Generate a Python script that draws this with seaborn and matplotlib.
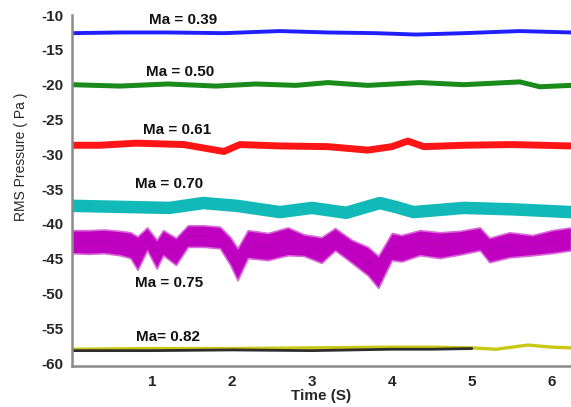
import matplotlib
matplotlib.use("Agg")
import matplotlib.pyplot as plt
import seaborn as sns
import pandas as pd

# ---- data ----
t_blue = [0.0, 0.6, 1.2, 1.9, 2.6, 3.2, 3.8, 4.3, 4.9, 5.6, 6.24]
v_blue = [-12.6, -12.5, -12.5, -12.6, -12.3, -12.5, -12.6, -12.8, -12.6, -12.3, -12.5]

t_green = [0.0, 0.6, 1.2, 1.8, 2.3, 2.8, 3.2, 3.7, 4.35, 4.9, 5.6, 5.85, 6.24]
v_green = [-20.0, -20.2, -19.9, -20.2, -19.9, -20.1, -19.7, -20.1, -19.7, -20.0, -19.6, -20.3, -20.1]

t_red = [0.0, 0.35, 0.8, 1.4, 1.9, 2.1, 2.6, 3.2, 3.7, 4.0, 4.2, 4.4, 4.9, 5.5, 6.24]
v_red = [-28.7, -28.7, -28.4, -28.6, -29.6, -28.6, -28.8, -28.9, -29.4, -28.9, -28.1, -28.9, -28.7, -28.6, -28.8]

t_cyan = [0.0, 0.81, 1.22, 1.64, 2.06, 2.6, 3.0, 3.43, 3.85, 4.06, 4.27, 4.9, 5.5, 6.24]
v_cyan = [-37.4, -37.6, -37.7, -37.0, -37.4, -38.3, -37.7, -38.4, -37.0, -37.6, -38.3, -37.7, -37.9, -38.3]

t_mag = [0.0, 0.2, 0.4, 0.6, 0.73, 0.82, 0.94, 1.06, 1.14, 1.3, 1.45, 1.65, 1.85,
         1.98, 2.07, 2.2, 2.45, 2.7, 2.9, 3.12, 3.29, 3.5, 3.7, 3.83, 4.0, 4.12,
         4.35, 4.6, 4.85, 5.1, 5.22, 5.47, 5.76, 6.0, 6.24]
mag_upper = [-40.9, -40.9, -40.8, -41.0, -41.2, -41.8, -40.5, -42.3, -40.9, -42.0, -40.2, -40.2, -40.4,
             -41.9, -43.5, -40.9, -41.3, -40.5, -41.5, -41.9, -40.6, -42.3, -43.3, -44.6, -41.3, -41.6,
             -40.9, -41.2, -41.0, -40.5, -42.0, -41.2, -41.6, -40.9, -40.5]
mag_lower = [-44.2, -44.3, -44.2, -44.5, -44.9, -46.6, -43.8, -46.4, -44.5, -45.9, -43.3, -43.3, -43.5,
             -45.9, -48.1, -44.9, -45.2, -44.5, -44.6, -45.6, -43.8, -45.6, -47.4, -49.2, -45.2, -45.4,
             -44.5, -44.9, -44.4, -43.8, -45.5, -44.8, -44.5, -44.2, -43.8]

t_yellow = [0.0, 1.0, 2.0, 3.0, 4.0, 4.5, 5.0, 5.3, 5.7, 6.0, 6.24]
v_yellow = [-58.0, -57.9, -57.9, -57.8, -57.7, -57.7, -57.8, -58.0, -57.4, -57.7, -57.8]

t_black = [0.0, 1.0, 2.0, 3.0, 3.5, 4.0, 4.5, 5.0]
v_black = [-58.2, -58.2, -58.1, -58.2, -58.1, -58.0, -58.0, -57.9]

labels = ["Ma = 0.39", "Ma = 0.50", "Ma = 0.61", "Ma = 0.70", "Ma = 0.75", "Ma= 0.82"]
label_x = [1.39, 1.35, 1.31, 1.22, 1.21, 1.20]
label_y = [-10.7, -18.2, -26.5, -34.3, -48.5, -56.3]

x_ticks = [1, 2, 3, 4, 5, 6]
y_ticks = [-10, -15, -20, -25, -30, -35, -40, -45, -50, -55, -60]

# ---- plotting ----
sns.set_style("white")
plt.rcParams["font.family"] = ["Liberation Sans", "DejaVu Sans"]

fig = plt.figure(figsize=(5.71, 4.07), dpi=100)
ax = fig.add_axes([0.126, 0.100, 0.874, 0.863])

df_y = pd.DataFrame({"t": t_yellow, "v": v_yellow})
df_k = pd.DataFrame({"t": t_black, "v": v_black})
sns.lineplot(data=df_y, x="t", y="v", ax=ax, color="#c8c815", linewidth=2.4)
sns.lineplot(data=df_k, x="t", y="v", ax=ax, color="#2e2e2e", linewidth=2.0)

sns.lineplot(data=pd.DataFrame({"t": t_blue, "v": v_blue}), x="t", y="v", ax=ax,
             color="#1f1fff", linewidth=2.8)
sns.lineplot(data=pd.DataFrame({"t": t_green, "v": v_green}), x="t", y="v", ax=ax,
             color="#1a8a1a", linewidth=3.6)
sns.lineplot(data=pd.DataFrame({"t": t_red, "v": v_red}), x="t", y="v", ax=ax,
             color="#ff1515", linewidth=5.0)
sns.lineplot(data=pd.DataFrame({"t": t_cyan, "v": v_cyan}), x="t", y="v", ax=ax,
             color="#12b9b9", linewidth=9.0)

ax.fill_between(t_mag, mag_lower, mag_upper, color="#c000c0", linewidth=1.2,
                edgecolor="#d868d8")
mag_mid = [(a + b) / 2 for a, b in zip(mag_upper, mag_lower)]
sns.lineplot(data=pd.DataFrame({"t": t_mag, "v": mag_mid}), x="t", y="v", ax=ax,
             color="#b800b8", linewidth=1.0)

for s, x, y in zip(labels, label_x, label_y):
    ax.text(x, y, s, fontsize=11, fontweight="bold", ha="center", va="center", color="#111111")

ax.set_xlim(0, 6.24)
ax.set_ylim(-60.45, -10)
ax.set_xticks(x_ticks)
ax.set_yticks(y_ticks)
ax.set_xticklabels([str(v) for v in x_ticks], fontweight="bold", fontsize=11)
ax.set_yticklabels([str(v) for v in y_ticks], fontweight="bold", fontsize=11)
ax.tick_params(direction="in", length=6, width=1.3, color="#8a8a8a", pad=6)
ax.set_xlabel("Time (S)", fontsize=11, fontweight="bold", labelpad=0)
ax.set_ylabel("RMS Pressure ( Pa )", fontsize=10)
ax.yaxis.set_label_coords(-0.088, 0.595)

for side in ["top", "right"]:
    ax.spines[side].set_visible(False)
for side in ["left", "bottom"]:
    ax.spines[side].set_color("#8a8a8a")
    ax.spines[side].set_linewidth(1.8)

fig.savefig("out.png", dpi=100)
